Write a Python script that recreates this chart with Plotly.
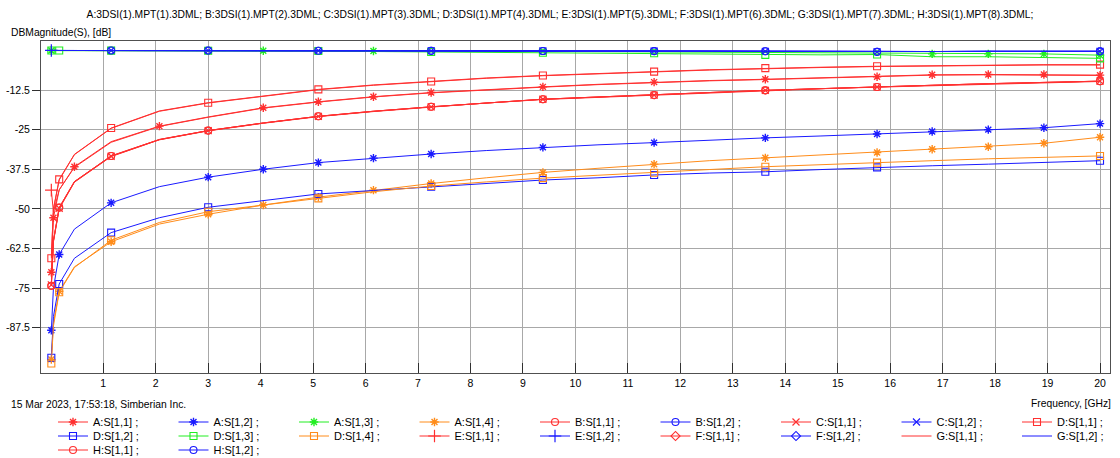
import plotly.graph_objects as go

# Frequency points (GHz)
F = [0.01, 0.05, 0.16, 0.45, 1.15, 2.07, 3.0, 4.05, 5.1, 6.15, 7.25, 8.3, 9.38,
     10.43, 11.5, 12.55, 13.62, 14.68, 15.75, 16.8, 17.87, 18.93, 20.0]

# dB magnitudes
a_s11 = [-70.0, -52.8, -44.0, -36.7, -28.8, -23.9, -21.0, -18.1, -16.2, -14.6, -13.3, -12.3, -11.5,
         -10.7, -10.0, -9.5, -9.1, -8.7, -8.3, -7.7, -7.6, -7.6, -7.8]
a_s12 = [-88.3, -75.0, -64.4, -56.4, -48.1, -43.0, -40.0, -37.5, -35.4, -34.0, -32.7, -31.6, -30.6,
         -29.8, -29.1, -28.3, -27.6, -27.0, -26.4, -25.6, -25.0, -24.4, -23.1]
a_s13 = [-0.05, -0.05, -0.05, -0.05, -0.06, -0.08, -0.1, -0.12, -0.15, -0.18, -0.2, -0.25, -0.3,
         -0.4, -0.5, -0.6, -0.8, -0.9, -1.0, -1.1, -1.1, -1.1, -1.5]
a_s14 = [-97.5, -86.0, -76.0, -68.3, -60.4, -54.8, -51.7, -48.8, -46.3, -44.1, -42.0, -40.2, -38.5,
         -37.2, -35.9, -34.8, -33.9, -33.0, -32.2, -31.2, -30.4, -29.3, -27.4]
b_s11 = [-74.3, -60.0, -49.6, -41.4, -33.3, -28.1, -25.3, -22.9, -20.8, -19.2, -17.8, -16.5, -15.4,
         -14.7, -14.1, -13.3, -12.6, -12.0, -11.55, -11.0, -10.5, -10.1, -9.7]
b_s12 = [-0.02, -0.02, -0.02, -0.03, -0.04, -0.05, -0.06, -0.08, -0.1, -0.12, -0.14, -0.16, -0.18,
         -0.2, -0.22, -0.25, -0.28, -0.35, -0.45, -0.35, -0.3, -0.3, -0.3]
c_s11 = [-74.0, -60.2, -49.8, -41.5, -33.4, -28.2, -25.3, -22.9, -20.8, -19.2, -17.8, -16.5, -15.4,
         -14.7, -14.1, -13.3, -12.6, -12.0, -11.55, -11.0, -10.5, -10.1, -9.7]
c_s12 = [-0.02, -0.02, -0.02, -0.03, -0.04, -0.05, -0.06, -0.08, -0.1, -0.12, -0.14, -0.16, -0.18,
         -0.2, -0.22, -0.25, -0.28, -0.35, -0.45, -0.35, -0.3, -0.3, -0.3]
d_s11 = [-65.6, -50.0, -40.7, -32.8, -24.5, -19.1, -16.5, -14.3, -12.3, -10.9, -9.8, -8.7, -7.9,
         -7.2, -6.7, -6.1, -5.6, -5.3, -5.0, -4.8, -4.6, -4.5, -4.5]
d_s12 = [-97.0, -84.0, -73.7, -65.6, -57.5, -52.8, -49.5, -47.3, -45.3, -44.2, -43.0, -42.0, -40.9,
         -40.2, -39.3, -38.7, -38.3, -37.6, -36.9, -36.4, -35.9, -35.4, -34.8]
d_s13 = [-0.05, -0.05, -0.05, -0.05, -0.06, -0.08, -0.1, -0.15, -0.2, -0.35, -0.5, -0.6, -0.75,
         -0.85, -0.9, -1.2, -1.4, -1.4, -1.3, -2.0, -2.0, -2.2, -2.5]
d_s14 = [-98.8, -87.0, -76.3, -68.5, -59.9, -54.3, -50.9, -48.7, -46.7, -44.6, -42.8, -41.5, -40.3,
         -39.4, -38.6, -37.6, -36.7, -36.0, -35.4, -34.8, -34.2, -33.7, -33.3]
e_s11 = [-44.1, -51.0, -44.0, -36.9, -29.0, -24.0, -21.1, -18.2, -16.3, -14.7, -13.4, -12.4, -11.6,
         -10.8, -10.1, -9.6, -9.2, -8.8, -8.4, -7.8, -7.7, -7.7, -7.9]
e_s12 = [-0.02, -0.02, -0.02, -0.03, -0.04, -0.05, -0.06, -0.08, -0.1, -0.12, -0.14, -0.16, -0.18,
         -0.2, -0.22, -0.25, -0.28, -0.35, -0.45, -0.35, -0.3, -0.3, -0.3]
f_s11 = [-65.0, -50.2, -40.9, -32.9, -24.6, -19.2, -16.6, -14.4, -12.4, -11.0, -9.9, -8.8, -8.0,
         -7.3, -6.8, -6.2, -5.7, -5.4, -5.1, -4.9, -4.7, -4.6, -4.6]
f_s12 = [-0.02, -0.02, -0.02, -0.03, -0.04, -0.05, -0.06, -0.08, -0.1, -0.12, -0.14, -0.16, -0.18,
         -0.2, -0.22, -0.25, -0.28, -0.35, -0.45, -0.35, -0.3, -0.3, -0.3]
g_s11 = [-73.5, -60.4, -50.0, -41.6, -33.5, -28.2, -25.4, -23.0, -20.9, -19.3, -17.9, -16.6, -15.5,
         -14.8, -14.2, -13.4, -12.7, -12.1, -11.6, -11.1, -10.6, -10.2, -9.8]
g_s12 = [-0.02, -0.02, -0.02, -0.03, -0.04, -0.05, -0.06, -0.08, -0.1, -0.12, -0.14, -0.16, -0.18,
         -0.2, -0.22, -0.25, -0.28, -0.35, -0.45, -0.35, -0.3, -0.3, -0.3]
h_s11 = [-74.3, -60.0, -49.6, -41.4, -33.3, -28.1, -25.3, -22.9, -20.8, -19.2, -17.8, -16.5, -15.4,
         -14.7, -14.1, -13.3, -12.6, -12.0, -11.55, -11.0, -10.5, -10.1, -9.7]
h_s12 = [-0.02, -0.02, -0.02, -0.03, -0.04, -0.05, -0.06, -0.08, -0.1, -0.12, -0.14, -0.16, -0.18,
         -0.2, -0.22, -0.25, -0.28, -0.35, -0.45, -0.35, -0.3, -0.3, -0.3]

# Frequencies where each curve carries a marker
mk_a11 = [0.01, 0.05, 0.45, 2.07, 4.05, 5.1, 6.15, 7.25, 9.38, 11.5, 13.62, 15.75, 16.8, 17.87, 18.93, 20.0]
mk_a12 = [0.01, 0.16, 1.15, 3.0, 4.05, 5.1, 6.15, 7.25, 9.38, 11.5, 13.62, 15.75, 16.8, 17.87, 18.93, 20.0]
mk_a13 = [0.01, 4.05, 6.15, 16.8, 17.87, 18.93, 20.0]
mk_d = [0.01, 0.16, 1.15, 3.0, 5.1, 7.25, 9.38, 11.5, 13.62, 15.75, 20.0]
mk_top = [1.15, 3.0, 5.1, 7.25, 9.38, 11.5, 13.62, 15.75, 20.0]
mk_first = [0.01]
mk_none = []

labels = ["A:S[1,1] ;", "A:S[1,2] ;", "A:S[1,3] ;", "A:S[1,4] ;", "B:S[1,1] ;", "B:S[1,2] ;",
          "C:S[1,1] ;", "C:S[1,2] ;", "D:S[1,1] ;", "D:S[1,2] ;", "D:S[1,3] ;", "D:S[1,4] ;",
          "E:S[1,1] ;", "E:S[1,2] ;", "F:S[1,1] ;", "F:S[1,2] ;", "G:S[1,1] ;", "G:S[1,2] ;",
          "H:S[1,1] ;", "H:S[1,2] ;"]

RED, BLUE, GREEN, ORANGE = "#ff3030", "#1a1aff", "#22ee22", "#ff8c1a"

values = [a_s11, a_s12, a_s13, a_s14, b_s11, b_s12, c_s11, c_s12, d_s11, d_s12, d_s13, d_s14,
          e_s11, e_s12, f_s11, f_s12, g_s11, g_s12, h_s11, h_s12]
colors = [RED, BLUE, GREEN, ORANGE, RED, BLUE, RED, BLUE, RED, BLUE, GREEN, ORANGE,
          RED, BLUE, RED, BLUE, RED, BLUE, RED, BLUE]
symbols = ["asterisk-open"] * 4 + ["circle-open"] * 2 + ["x-thin-open"] * 2 + ["square-open"] * 4 + \
          ["cross-thin-open"] * 2 + ["diamond-open"] * 2 + [None] * 2 + ["circle-open"] * 2
marks = [mk_a11, mk_a12, mk_a13, mk_a12, mk_d, mk_top, mk_d, mk_top, mk_d, mk_d, mk_d, mk_d,
         mk_first, mk_first, mk_none, mk_none, mk_none, mk_none, mk_d, mk_top]
legends = ["legend"] * 9 + ["legend2"] * 9 + ["legend3"] * 2
row_end = [False] * 8 + [True] + [False] * 8 + [True] + [False, True]

fig = go.Figure()
for lab, vals, col, sym, mk, lg, last in zip(labels, values, colors, symbols, marks, legends, row_end):
    if sym == "asterisk-open":
        msize, mlw = 7, 1.4
    elif sym == "cross-thin-open":
        msize, mlw = 9, 1.2
    elif sym == "x-thin-open":
        msize, mlw = 7, 1.2
    else:
        msize, mlw = 7, 1.1
    fig.add_trace(go.Scatter(x=F, y=vals, mode="lines", line=dict(color=col, width=1),
                             showlegend=False, hoverinfo="skip"))
    if sym and mk:
        mx = [f for f in F if f in mk]
        my = [v for f, v in zip(F, vals) if f in mk]
        fig.add_trace(go.Scatter(x=mx, y=my, mode="markers", showlegend=False, hoverinfo="skip",
                                 marker=dict(symbol=sym, size=msize, color=col,
                                             line=dict(color=col, width=mlw))))
    leg = dict(x=[None], y=[None], name=lab, legend=lg, line=dict(color=col, width=1))
    if last:
        leg["legendwidth"] = 50
    if sym:
        leg.update(mode="lines+markers",
                   marker=dict(symbol=sym, size=msize, color=col, line=dict(color=col, width=mlw)))
    else:
        leg.update(mode="lines")
    fig.add_trace(go.Scatter(**leg))

FONT = "Liberation Sans, Arial, sans-serif"
H_PLOT = 332.0

def legend_cfg(ycenter_px):
    return dict(orientation="h", x=(53 - 41) / 1069.0, xanchor="left",
                y=(373 - ycenter_px) / H_PLOT, yanchor="middle",
                entrywidth=75.5, entrywidthmode="pixels", bgcolor="rgba(0,0,0,0)",
                font=dict(family=FONT, size=11, color="black"), traceorder="normal",
                tracegroupgap=0, itemclick=False, itemdoubleclick=False)

fig.update_layout(
    width=1120, height=458,
    margin=dict(l=41, r=10, t=41, b=85, autoexpand=False),
    paper_bgcolor="white", plot_bgcolor="white",
    font=dict(family=FONT, size=10.5, color="black"),
    title=dict(text="A:3DSI(1).MPT(1).3DML; B:3DSI(1).MPT(2).3DML; C:3DSI(1).MPT(3).3DML; "
                    "D:3DSI(1).MPT(4).3DML; E:3DSI(1).MPT(5).3DML; F:3DSI(1).MPT(6).3DML; "
                    "G:3DSI(1).MPT(7).3DML; H:3DSI(1).MPT(8).3DML;",
               x=0.5, xanchor="center", y=1 - 14 / 458.0, yanchor="middle",
               font=dict(family=FONT, size=10.3, color="black")),
    legend=legend_cfg(422), legend2=legend_cfg(436), legend3=legend_cfg(450),
    xaxis=dict(range=[-0.187, 20.19], tickvals=list(range(1, 21)), ticks="inside", ticklen=10,
               tickcolor="#303030", showgrid=True, gridcolor="#a8a8a8", gridwidth=1,
               showline=True, linecolor="#505050", linewidth=1, mirror=True, zeroline=False,
               tickfont=dict(family=FONT, size=10.5, color="black")),
    yaxis=dict(range=[-101.8, 2.97], tickvals=[-87.5, -75, -62.5, -50, -37.5, -25, -12.5],
               ticktext=["-87.5", "-75", "-62.5", "-50", "-37.5", "-25", "-12.5"],
               ticks="outside", ticklen=8, tickcolor="#303030", showgrid=True,
               gridcolor="#a8a8a8", gridwidth=1, showline=True, linecolor="#505050",
               linewidth=1, mirror=True, zeroline=False,
               tickfont=dict(family=FONT, size=10.5, color="black")),
    annotations=[
        dict(text="DBMagnitude(S), [dB]", xref="paper", yref="paper", x=(9 - 41) / 1069.0,
             y=1 + (41 - 32) / H_PLOT, xanchor="left", yanchor="middle", showarrow=False,
             font=dict(family=FONT, size=10.3, color="black")),
        dict(text="15 Mar 2023, 17:53:18, Simberian Inc.", xref="paper", yref="paper",
             x=(9 - 41) / 1069.0, y=(373 - 404) / H_PLOT, xanchor="left", yanchor="middle",
             showarrow=False, font=dict(family=FONT, size=10.3, color="black")),
        dict(text="Frequency, [GHz]", xref="paper", yref="paper", x=(1113 - 41) / 1069.0,
             y=(373 - 403) / H_PLOT, xanchor="right", yanchor="middle", showarrow=False,
             font=dict(family=FONT, size=10.3, color="black")),
    ],
)

fig.write_html("out.html", config={"displayModeBar": False},
               post_script="document.body.style.margin='0px';")
